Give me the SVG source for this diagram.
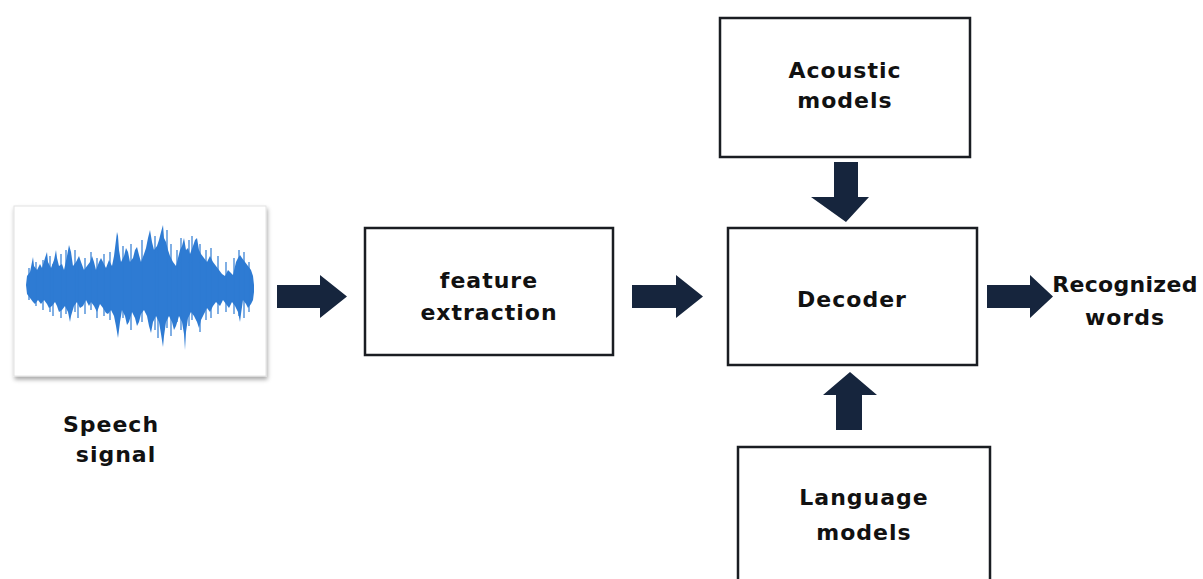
<svg xmlns="http://www.w3.org/2000/svg" width="1203" height="579" viewBox="0 0 1203 579">
<style>
.box{fill:#fff;stroke:#1a1d22;stroke-width:2.5}
.lbl{font-family:"DejaVu Sans","Liberation Sans",sans-serif;font-weight:bold;font-size:22px;fill:#111;text-anchor:middle;letter-spacing:1px}
.arr{fill:#16253d}
.sp{stroke:#2e7bd3;stroke-width:1.2}
</style>
<defs>
<filter id="sh" x="-10%" y="-10%" width="130%" height="130%">
<feDropShadow dx="1" dy="3" stdDeviation="2" flood-color="#000" flood-opacity="0.35"/>
</filter>
</defs>
<rect width="1203" height="579" fill="#fff"/>
<g id="speech">
<rect x="14" y="206" width="252" height="170" fill="#fff" stroke="#e2e2e2" stroke-width="1" filter="url(#sh)"/>
<path fill="#2e7bd3" d="M26,285 L27,276 L30,272 L32,262 L33,257 L34,266 L37,270 L40,264 L42,268 L45,258 L47,252 L48,262 L51,268 L54,260 L56,250 L57,258 L59,266 L62,264 L64,270 L67,256 L69,245 L71,252 L73,266 L76,262 L79,256 L81,262 L84,270 L87,266 L90,262 L92,256 L94,262 L96,270 L99,262 L101,258 L103,262 L106,268 L109,260 L112,266 L114,256 L116,240 L117,232 L118,236 L119,250 L121,262 L124,256 L126,248 L128,252 L130,262 L133,258 L135,250 L137,247 L139,255 L141,262 L144,254 L146,248 L148,238 L150,230 L152,242 L154,250 L157,246 L159,240 L161,232 L163,225 L164,238 L166,242 L168,250 L170,256 L173,262 L176,266 L178,258 L180,250 L182,246 L184,238 L186,250 L188,248 L190,254 L193,246 L195,240 L197,238 L199,250 L201,254 L204,258 L207,262 L210,256 L213,262 L216,266 L219,270 L222,274 L225,276 L228,270 L230,272 L233,275 L236,262 L238,258 L240,255 L242,258 L245,262 L248,266 L251,270 L253,276 L254,285 L254,292 L253,300 L251,304 L248,308 L246,304 L243,300 L241,314 L240,322 L238,312 L235,306 L232,302 L229,308 L226,304 L223,300 L220,306 L216,302 L213,306 L210,312 L207,308 L204,314 L201,320 L199,328 L197,322 L194,316 L191,312 L188,318 L186,332 L185,350 L184,334 L182,322 L179,316 L176,326 L174,330 L172,322 L169,316 L166,322 L164,336 L163,347 L161,334 L159,322 L156,316 L153,322 L151,333 L149,326 L147,316 L144,310 L141,314 L139,322 L137,326 L135,318 L132,312 L129,322 L127,325 L125,316 L122,310 L120,322 L118,338 L116,326 L114,316 L111,310 L108,314 L106,313 L103,308 L100,304 L97,312 L94,306 L91,302 L89,306 L86,300 L83,306 L80,308 L77,302 L74,306 L71,316 L70,322 L68,312 L65,306 L62,310 L59,312 L57,306 L55,302 L52,306 L49,308 L47,304 L44,300 L41,304 L38,300 L35,304 L33,302 L30,298 L27,294 Z"/>
<path class="sp" d="M29,268V300 M36,262V306 M43,260V310 M50,256V312 M53,264V316 M61,254V318 M66,250V314 M75,250V312 M78,260V318 M85,258V314 M91,252V310 M97,258V318 M104,254V316 M110,252V320 M123,246V318 M131,244V330 M142,240V322 M155,236V330 M158,248V338 M167,230V328 M171,244V336 M177,250V322 M181,238V330 M189,240V326 M192,236V320 M200,244V332 M206,250V320 M211,248V318 M218,256V314 M226,262V312 M234,258V314 M239,250V316 M244,252V318 M249,262V312"/>
<text class="lbl" x="111" y="432">Speech</text>
<text class="lbl" x="116" y="462">signal</text>
</g>
<g id="feature">
<rect class="box" x="365" y="228" width="248" height="127"/>
<text class="lbl" x="489" y="288">feature</text>
<text class="lbl" x="489" y="320">extraction</text>
</g>
<g id="acoustic">
<rect class="box" x="720" y="18" width="250" height="139"/>
<text class="lbl" x="845" y="78">Acoustic</text>
<text class="lbl" x="845" y="108">models</text>
</g>
<g id="decoder">
<rect class="box" x="728" y="228" width="249" height="137"/>
<text class="lbl" x="852" y="307">Decoder</text>
</g>
<g id="language">
<rect class="box" x="738" y="447" width="252" height="140"/>
<text class="lbl" x="864" y="505">Language</text>
<text class="lbl" x="864" y="540">models</text>
</g>
<g id="output">
<text class="lbl" x="1125" y="292" style="letter-spacing:0.3px">Recognized</text>
<text class="lbl" x="1125" y="325">words</text>
</g>
<g id="connectors">
<path class="arr" d="M277,285 H320 V275 L347,296.5 L320,318 V308 H277 Z"/>
<path class="arr" d="M632,285 H676 V275 L703,296.5 L676,318 V308 H632 Z"/>
<path class="arr" d="M987,285 H1030 V275 L1053,296.5 L1030,318 V308 H987 Z"/>
<path class="arr" d="M834,162 H858 V197 H869 L846,222 L811,197 H834 Z"/>
<path class="arr" d="M836,430 H862 V395 H877 L850,372 L823,395 H836 Z"/>
</g>
</svg>
